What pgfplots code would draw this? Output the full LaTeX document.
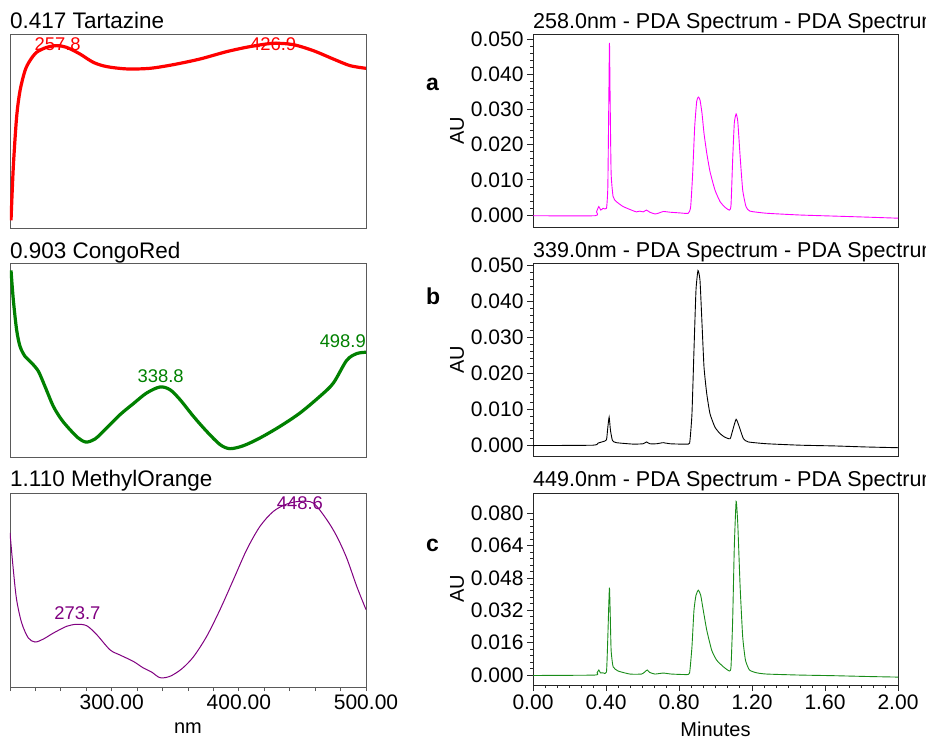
\documentclass[border=0pt]{standalone}
\usepackage{fontspec}
\setmainfont{Liberation Sans}
\usepackage{pgfplots}
\pgfplotsset{compat=1.18}
\definecolor{cred}{RGB}{255,0,0}
\definecolor{cgreen}{RGB}{0,128,0}
\definecolor{cpurple}{RGB}{128,0,128}
\definecolor{cmag}{RGB}{255,0,255}
\definecolor{cgreen2}{RGB}{25,140,25}
\definecolor{framec}{RGB}{90,90,90}
\tikzset{pk/.style={font=\fontsize{18.4}{18.4}\selectfont, inner sep=0pt}}
\begin{document}
\begin{tikzpicture}[x=1pt,y=1pt]
\pgfplotsset{
 spec/.style={scale only axis, width=356pt, height=194pt, xmin=220, xmax=500, ymin=0, ymax=1,
   ytick=\empty, xtick=\empty, axis line style={framec, line width=0.9pt}, anchor=south west},
 chrom/.style={scale only axis, width=365pt, height=193pt, xmin=0, xmax=2, anchor=south west,
   xtick=\empty, axis line style={line width=0.8pt, black!85},
   tick align=outside, major tick length=6pt, minor tick length=3pt,
   every tick/.style={black!85, line width=0.7pt},
   ytick pos=left, xtick pos=bottom, minor y tick num=4, scaled y ticks=false, scaled x ticks=false,
   yticklabel style={/pgf/number format/.cd, fixed, fixed zerofill, precision=3, assume math mode=true},
   tick label style={font=\fontsize{21}{21}\selectfont},
   ylabel={AU}, ylabel style={font=\fontsize{20}{20}\selectfont, at={(axis description cs:-0.208,0.5)}, anchor=center}}
}
% ---------- Left: Tartazine ----------
\begin{axis}[spec, at={(10pt,511pt)}]
\addplot[cred, line width=3.2pt, smooth, tension=0.5] coordinates {
(220.8,0.039)(222.6,0.314)(225.2,0.571)(227.9,0.708)(231.8,0.811)(235.7,0.863)(241,0.906)(248.8,0.931)(256.7,0.94)
(264.6,0.931)(275,0.897)(285.5,0.854)(296,0.832)(311.8,0.820)(330,0.823)(348.5,0.842)(369.4,0.871)(390.4,0.909)
(408.8,0.935)(427.1,0.952)(442.8,0.945)(458.6,0.914)(474.3,0.871)(487.4,0.837)(500,0.823)};
\node[pk, text=cred] at (axis cs:257.5,0.945) {257.8};
\node[pk, text=cred] at (axis cs:427,0.945) {426.9};
\end{axis}
% ---------- Left: CongoRed ----------
\begin{axis}[spec, at={(10pt,282pt)}]
\addplot[cgreen, line width=3.2pt, smooth, tension=0.5] coordinates {
(220.8,0.962)(222.6,0.811)(225.2,0.656)(227.9,0.570)(231.8,0.519)(237,0.485)(242.3,0.442)(247.5,0.364)(254.1,0.261)
(260.6,0.192)(267.2,0.141)(273.7,0.098)(279.8,0.077)(286.9,0.093)(296,0.149)(306.5,0.218)(317,0.275)(327.5,0.330)
(338,0.361)(345.8,0.347)(353.7,0.296)(364.2,0.210)(374.7,0.132)(385.2,0.064)(393,0.043)(403.5,0.058)(416.6,0.098)
(432.4,0.158)(448.1,0.227)(463.8,0.313)(474.3,0.381)(484.8,0.498)(492.7,0.533)(500,0.540)};
\node[pk, text=cgreen] at (axis cs:338.5,0.416) {338.8};
\node[pk, text=cgreen, anchor=east] at (axis cs:500,0.598) {498.9};
\end{axis}
% ---------- Left: MethylOrange ----------
\begin{axis}[spec, at={(10pt,52pt)}, xtick={300,400,500}, minor xtick={220,240,...,500},
  xtick pos=bottom, tick align=outside, major tick length=4pt, minor tick length=4pt,
  every tick/.style={framec, line width=0.8pt},
  xticklabel style={font=\fontsize{21}{21}\selectfont, /pgf/number format/.cd, fixed, fixed zerofill, precision=2, assume math mode=true, 1000 sep={}},
  xlabel={nm}, xlabel style={font=\fontsize{20}{20}\selectfont, at={(axis description cs:0.5,-0.211)}, anchor=center}]
\addplot[cpurple, line width=1pt, smooth, tension=0.5] coordinates {
(220,0.794)(222.6,0.605)(225.2,0.450)(229.2,0.330)(234.4,0.253)(239.7,0.232)(246.2,0.247)(254.1,0.278)(264.6,0.313)
(272.4,0.323)(280.3,0.316)(288.2,0.270)(298.6,0.192)(306.5,0.165)(317,0.132)(324.9,0.098)(331.4,0.077)(338,0.048)
(345.8,0.055)(355,0.093)(364.2,0.155)(374.7,0.261)(385.2,0.399)(395.7,0.553)(406.2,0.708)(416.6,0.828)(427.1,0.905)
(437.6,0.943)(448.1,0.957)(458.6,0.948)(469.1,0.863)(477,0.777)(484.8,0.665)(492.7,0.519)(500,0.399)};
\node[pk, text=cpurple] at (axis cs:273,0.381) {273.7};
\node[pk, text=cpurple] at (axis cs:448,0.950) {448.6};
\end{axis}
% ---------- Right: a ----------
\begin{axis}[chrom, at={(533pt,512pt)}, ymin=-0.0034, ymax=0.0514, ytick={0,0.01,0.02,0.03,0.04,0.05}]
\addplot[cmag, line width=0.9pt, smooth, tension=0.3] coordinates {
(0,-0.0002)(0.3385,-0.0002)(0.348,0.0009)(0.3605,0.0024)(0.371,0.0014)(0.384,0.0019)(0.4026,0.0019)(0.41,0.008)
(0.4154,0.0327)(0.419,0.0489)(0.4227,0.0327)(0.428,0.0119)(0.439,0.0052)(0.457,0.0038)(0.494,0.0024)(0.549,0.0012)
(0.567,0.0009)(0.5855,0.0011)(0.604,0.0009)(0.622,0.0014)(0.64,0.0008)(0.668,0.0003)(0.686,0.0005)(0.714,0.0010)
(0.750,0.0008)(0.805,0.0006)(0.851,0.0005)(0.864,0.0024)(0.875,0.0119)(0.886,0.0251)(0.897,0.0323)(0.906,0.0335)
(0.915,0.0327)(0.926,0.0289)(0.937,0.0232)(0.952,0.0176)(0.970,0.0123)(0.997,0.0071)(1.025,0.0038)(1.052,0.0022)
(1.076,0.0014)(1.085,0.0028)(1.094,0.0157)(1.103,0.0261)(1.113,0.0287)(1.122,0.0266)(1.135,0.0166)(1.149,0.0071)
(1.167,0.0024)(1.189,0.0011)(1.281,0.0005)(1.464,0.0)(1.647,-0.0003)(1.830,-0.0006)(2.0,-0.0009)};
\end{axis}
% ---------- Right: b ----------
\begin{axis}[chrom, at={(533pt,283pt)}, ymin=-0.003, ymax=0.0506, ytick={0,0.01,0.02,0.03,0.04,0.05}]
\addplot[black, line width=0.9pt, smooth, tension=0.3] coordinates {
(0,-0.0001)(0.329,0)(0.357,0.0006)(0.384,0.001)(0.4026,0.0015)(0.41,0.005)(0.4172,0.0078)(0.4245,0.0041)(0.4355,0.0013)
(0.457,0.0007)(0.549,0.0003)(0.604,0.0004)(0.622,0.0009)(0.64,0.0004)(0.677,0.0004)(0.714,0.0007)(0.750,0.0004)
(0.851,0.0003)(0.860,0.0013)(0.871,0.0087)(0.882,0.0263)(0.893,0.043)(0.904,0.0485)(0.915,0.0458)(0.926,0.0338)
(0.937,0.0217)(0.952,0.0143)(0.970,0.0087)(0.997,0.005)(1.025,0.0032)(1.052,0.0022)(1.080,0.0018)(1.094,0.0041)
(1.113,0.0072)(1.131,0.005)(1.153,0.0018)(1.180,0.0009)(1.281,0.0004)(1.464,0)(1.647,-0.0002)(1.830,-0.0005)(2.0,-0.0007)};
\end{axis}
% ---------- Right: c ----------
\begin{axis}[chrom, at={(533pt,54pt)}, height=192pt, ymin=-0.0049, ymax=0.0899, ytick={0,0.016,0.032,0.048,0.064,0.080},
  xtick={0,0.4,0.8,1.2,1.6,2}, minor x tick num=5,
  xticklabel style={/pgf/number format/.cd, fixed, fixed zerofill, precision=2, assume math mode=true},
  xlabel={Minutes}, xlabel style={font=\fontsize{20}{20}\selectfont, at={(axis description cs:0.5,-0.229)}, anchor=center}]
\addplot[cgreen2, line width=0.9pt, smooth, tension=0.3] coordinates {
(0,-0.0002)(0.3385,0)(0.351,0.0011)(0.3605,0.0025)(0.3696,0.0011)(0.384,0.0011)(0.4026,0.0015)(0.41,0.0189)
(0.4154,0.0353)(0.419,0.0432)(0.4227,0.032)(0.428,0.0123)(0.439,0.0041)(0.4666,0.002)(0.531,0.0005)(0.595,0.0005)
(0.613,0.0016)(0.626,0.0025)(0.640,0.0013)(0.668,0.0005)(0.714,0.001)(0.759,0.0005)(0.851,0.0003)(0.860,0.0025)
(0.871,0.014)(0.882,0.032)(0.893,0.0394)(0.906,0.0419)(0.919,0.0394)(0.933,0.032)(0.952,0.0222)(0.979,0.0123)
(1.006,0.0074)(1.043,0.0041)(1.076,0.002)(1.085,0.0041)(1.094,0.0271)(1.103,0.0632)(1.113,0.0858)(1.122,0.0747)
(1.135,0.0435)(1.149,0.0189)(1.164,0.0074)(1.186,0.0025)(1.226,0.0011)(1.281,0.0005)(1.464,0)(1.647,-0.0003)
(1.830,-0.0007)(2.0,-0.001)};
\end{axis}
% ---------- Titles ----------
\begin{scope}[every node/.style={inner sep=0pt, anchor=base west}]
\node[font=\fontsize{22.5}{22.5}\selectfont] at (10,710) {0.417 Tartazine};
\node[font=\fontsize{22.5}{22.5}\selectfont] at (10,480) {0.903 CongoRed};
\node[font=\fontsize{22.5}{22.5}\selectfont] at (10,252) {1.110 MethylOrange};
\node[font=\fontsize{21.5}{21.5}\selectfont] at (533,710) {258.0nm - PDA Spectrum - PDA Spectrum};
\node[font=\fontsize{21.5}{21.5}\selectfont] at (533,481) {339.0nm - PDA Spectrum - PDA Spectrum};
\node[font=\fontsize{21.5}{21.5}\selectfont] at (533,252) {449.0nm - PDA Spectrum - PDA Spectrum};
\node[font=\fontsize{23}{23}\selectfont\bfseries] at (426,648) {a};
\node[font=\fontsize{23}{23}\selectfont\bfseries] at (426,434) {b};
\node[font=\fontsize{23}{23}\selectfont\bfseries] at (426,187) {c};
\end{scope}
\pgfresetboundingbox
\path[use as bounding box] (0,0) rectangle (926,739);
\end{tikzpicture}
\end{document}
